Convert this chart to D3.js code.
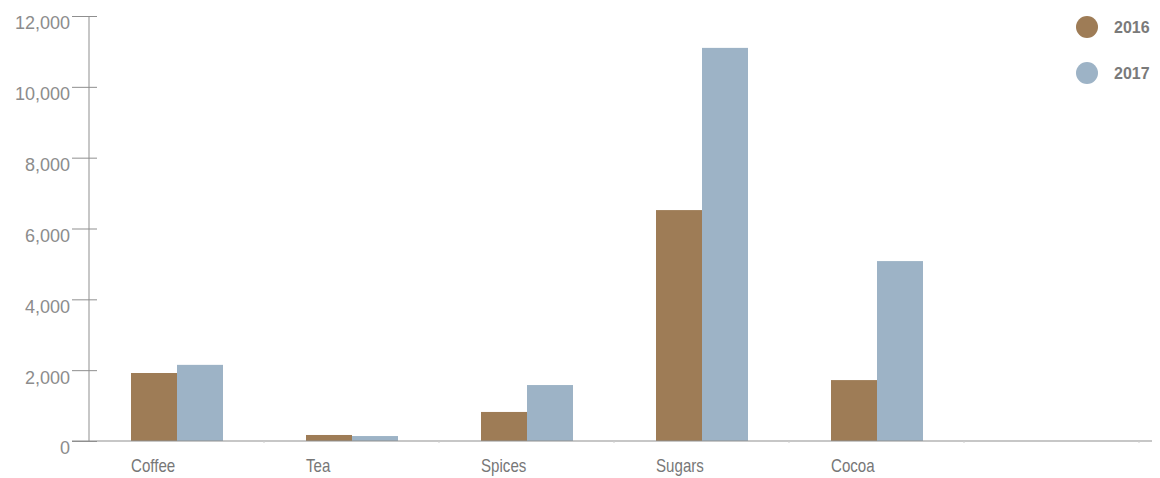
<!DOCTYPE html>
<html>
<head>
<meta charset="utf-8">
<script src="https://cdn.jsdelivr.net/npm/d3@7"></script>
<style>
  html, body { margin: 0; padding: 0; background: #fff; }
  svg { display: block; }
</style>
</head>
<body>
<svg id="chart" width="1160" height="478"></svg>
<script>
const categories = ["Coffee", "Tea", "Spices", "Sugars", "Cocoa"];
const seriesNames = ["2016", "2017"];
const values2016 = [1920, 170, 820, 6520, 1720];
const values2017 = [2150, 140, 1580, 11100, 5080];
const yTicks = [0, 2000, 4000, 6000, 8000, 10000, 12000];
const colors = ["#9e7c56", "#9db3c6"];

const svg = d3.select("#chart");
const axisColor = "#8f8f8f";

const y = d3.scaleLinear().domain([0, 12000]).range([441, 16]);

// six slots: five categories plus one empty slot at the end
const x0 = d3.scaleBand().domain(categories.concat([" "])).range([89, 1139]).padding(0);
const barW = 46;
const x1 = d3.scaleBand().domain(seriesNames)
  .range([0, x0.bandwidth()])
  .paddingInner(0)
  .paddingOuter((x0.bandwidth() / barW - 2) / 2)
  .round(true);

// bars
const data = categories.map((c, i) => ({ cat: c, vals: [values2016[i], values2017[i]] }));
const groups = svg.append("g").selectAll("g").data(data).join("g")
  .attr("transform", d => `translate(${x0(d.cat)},0)`);
groups.selectAll("rect")
  .data(d => d.vals.map((v, j) => ({ key: seriesNames[j], v, j })))
  .join("rect")
  .attr("x", d => x1(d.key))
  .attr("width", x1.bandwidth())
  .attr("y", d => y(d.v))
  .attr("height", d => y(0) - y(d.v))
  .attr("fill", d => colors[d.j]);

// y axis
const yAxis = d3.axisLeft(y).tickValues(yTicks).tickSize(25).tickPadding(2)
  .tickFormat(d3.format(","));
const gy = svg.append("g").attr("transform", "translate(97,0)").call(yAxis);
gy.select(".domain").remove();
gy.selectAll(".tick line").attr("stroke", axisColor);
gy.selectAll(".tick text")
  .attr("fill", "#8c8c8c")
  .attr("font-family", "'Liberation Sans', Arial, sans-serif")
  .attr("font-size", 18)
  .attr("dy", "0.72em");
svg.append("line")
  .attr("x1", 89).attr("x2", 89)
  .attr("y1", y(12000)).attr("y2", y(0))
  .attr("stroke", axisColor);

// baseline
svg.append("line")
  .attr("x1", 72).attr("x2", 1152)
  .attr("y1", y(0)).attr("y2", y(0))
  .attr("stroke", axisColor);
// faint slot separators
svg.append("g").selectAll("line")
  .data(x0.domain().slice(1).map(d => x0(d)).concat([x0.range()[1]]))
  .join("line")
  .attr("x1", d => d).attr("x2", d => d)
  .attr("y1", y(0)).attr("y2", y(0) + 2)
  .attr("stroke", "#cfcfcf");

// category labels (condensed look)
svg.append("g").selectAll("text").data(categories).join("text")
  .attr("transform", d => `translate(${x0(d) + x1(seriesNames[0])},472) scale(0.84,1)`)
  .attr("fill", "#777")
  .attr("font-family", "'Liberation Sans', Arial, sans-serif")
  .attr("font-size", 18)
  .text(d => d);

// legend
const legend = svg.append("g").selectAll("g").data(seriesNames).join("g")
  .attr("transform", (d, i) => `translate(1087,${27 + i * 46})`);
legend.append("circle").attr("r", 11).attr("fill", (d, i) => colors[i]);
legend.append("text")
  .attr("x", 27).attr("y", 6)
  .attr("fill", "#7a7a7a")
  .attr("font-family", "'Liberation Sans', Arial, sans-serif")
  .attr("font-weight", "bold")
  .attr("font-size", 16)
  .text(d => d);
</script>
</body>
</html>
